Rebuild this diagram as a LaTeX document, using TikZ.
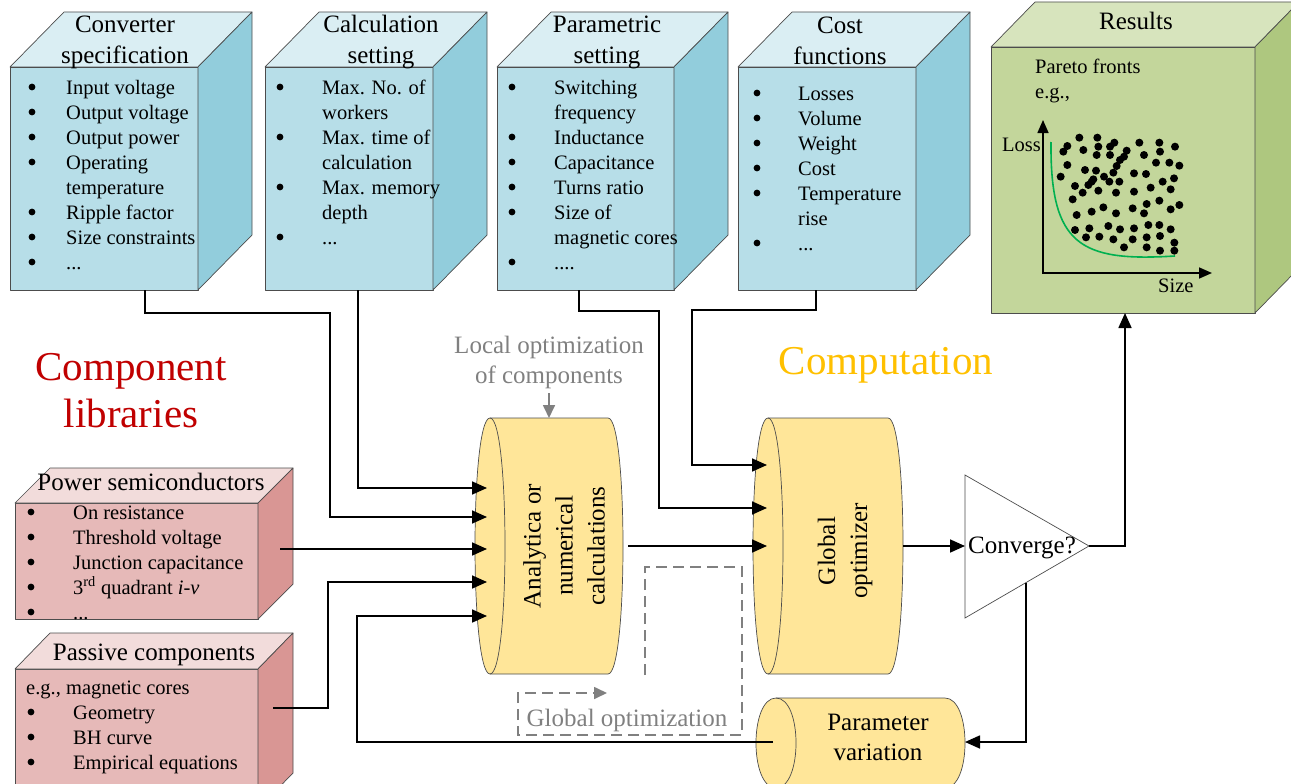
\documentclass[tikz,border=0pt]{standalone}
\usepackage{fontspec}
\setmainfont{Liberation Serif}
\usetikzlibrary{arrows.meta}
\definecolor{bfront}{HTML}{B7DEE8}
\definecolor{btop}{HTML}{DAEEF3}
\definecolor{bside}{HTML}{92CDDC}
\definecolor{pfront}{HTML}{E6B9B8}
\definecolor{ptop}{HTML}{F2DCDB}
\definecolor{pside}{HTML}{D99694}
\definecolor{gfront}{HTML}{C3D69B}
\definecolor{gtop}{HTML}{D7E4BD}
\definecolor{gside}{HTML}{AEC77F}
\definecolor{cylfill}{HTML}{FFE699}
\definecolor{libred}{HTML}{C00000}
\definecolor{compgold}{HTML}{FFC000}
\definecolor{ggray}{HTML}{808080}
\definecolor{pgreen}{HTML}{00B050}
\newcommand{\itemfont}{\fontsize{20.5}{25}\selectfont}
\newcommand{\ttlfont}{\fontsize{25}{31}\selectfont}
\newcommand{\cubefaces}[4]{%
  \filldraw[bxface, fill=#4top] (#1.north west) -- ++(#2,#3) -- ([shift={(#2,#3)}]#1.north east) -- (#1.north east) -- cycle;
  \filldraw[bxface, fill=#4side] (#1.north east) -- ++(#2,#3) -- ([shift={(#2,#3)}]#1.south east) -- (#1.south east) -- cycle;}
\begin{document}
\begin{tikzpicture}[x=1pt,y=-1pt,
  bxface/.style={draw=black!70, line width=0.7pt, line join=round},
  bxfront/.style={bxface, outer sep=0pt, inner sep=0pt, anchor=north west},
  wirearrow/.style={line width=1.7pt, -{Triangle[length=15pt,width=13pt]}},
  grayarrow/.style={draw=ggray, line width=1.7pt, -{Triangle[length=13pt,width=12pt]}},
  itm/.style={anchor=north west, inner sep=0pt, font=\itemfont},
  ttl/.style={font=\ttlfont, align=center, inner sep=0pt},
  cylst/.style={fill=cylfill, draw=black!70, line width=0.7pt}]
\useasboundingbox (0,0) rectangle (1291,784);
\clip (0,0) rectangle (1291,784);

% ---------- blue boxes ----------
\node[bxfront, fill=bfront, minimum width=188pt, minimum height=223pt] (cspec) at (10,67) {};
\cubefaces{cspec}{54}{-55}{b}
\node[bxfront, fill=bfront, minimum width=168pt, minimum height=223pt] (calc) at (265,67) {};
\cubefaces{calc}{54}{-55}{b}
\node[bxfront, fill=bfront, minimum width=177pt, minimum height=223pt] (param) at (497,67) {};
\cubefaces{param}{54}{-55}{b}
\node[bxfront, fill=bfront, minimum width=178pt, minimum height=223pt] (cost) at (738,67) {};
\cubefaces{cost}{54}{-55}{b}

\node[ttl] (cspec-t) at (125,42) {Converter\\specification};
\node[ttl] (calc-t) at (381,42) {Calculation\\setting};
\node[ttl] (param-t) at (607,42) {Parametric\\setting};
\node[ttl] (cost-t) at (840,41) {Cost\\functions};

\node[itm] (cspec-i) at (66,76.5) {\begin{tabular}{@{}l@{}}
Input voltage\\ Output voltage\\ Output power\\ Operating\\ temperature\\
Ripple factor\\ Size constraints\\ ...\end{tabular}};
\node[itm] (calc-i) at (322,76.5) {\begin{tabular}{@{}l@{}}
Max. No. of\\ workers\\ Max. time of\\ calculation\\ Max. memory\\ depth\\ ...\end{tabular}};
\node[itm] (param-i) at (554,76.5) {\begin{tabular}{@{}l@{}}
Switching\\ frequency\\ Inductance\\ Capacitance\\ Turns ratio\\ Size of\\ magnetic cores\\ ....\end{tabular}};
\node[itm] (cost-i) at (798,82.5) {\begin{tabular}{@{}l@{}}
Losses\\ Volume\\ Weight\\ Cost\\ Temperature\\ rise\\ ...\end{tabular}};
\foreach \k in {0,1,2,3,5,6,7} \fill (32,{87+25*\k}) circle[radius=3.4pt];
\foreach \k in {0,2,4,6} \fill (280,{87+25*\k}) circle[radius=3.4pt];
\foreach \k in {0,2,3,4,5,7} \fill (512,{87+25*\k}) circle[radius=3.4pt];
\foreach \k in {0,1,2,3,4,6} \fill (757,{93+25*\k}) circle[radius=3.4pt];

% ---------- results ----------
\node[bxfront, fill=gfront, minimum width=264pt, minimum height=266pt] (res) at (991,47) {};
\cubefaces{res}{44}{-45}{g}
\node[font=\ttlfont, inner sep=0pt, anchor=base] (res-t) at (1136,30) {Results};
\node[font=\itemfont, inner sep=0pt, anchor=base west] (pareto) at (1035,74) {Pareto fronts};
\node[font=\itemfont, inner sep=0pt, anchor=base west] (eg) at (1035,99) {e.g.,};
\draw[line width=1.6pt, {Triangle[length=13pt,width=11pt]}-{Triangle[length=13pt,width=11pt]}] (1043,120) -- (1043,273) -- (1212,273);
\node[font=\itemfont, inner sep=0pt, anchor=base east] (loss) at (1041,151) {Loss};
\node[font=\itemfont, inner sep=0pt, anchor=base west] (size) at (1158,292) {Size};
\foreach \px/\py in {298/413, 352/413, 262/438, 250/455, 310/450, 355/440, 350/465, 390/440, 403/428, 390/465, 440/452, 432/470, 478/428, 492/465, 538/428, 540/455, 585/440, 528/488, 568/488, 598/497, 262/495, 315/510, 348/512, 372/530, 400/518, 410/498, 420/480, 242/530, 335/545, 388/545, 418/545, 462/520, 498/522, 548/545, 582/535, 285/558, 308/578, 355/572, 408/578, 462/575, 512/563, 572/568, 278/598, 370/622, 408/640, 458/625, 492/640, 500/612, 538/602, 598/615, 572/628, 290/645, 335/635, 328/685, 385/678, 420/688, 462/685, 505/675, 538/675, 572/688, 285/690, 318/712, 358/710, 400/718, 432/742, 458/718, 500/712, 540/708, 583/728, 500/742, 540/752, 583/752, 340/538, 325/555}
  \fill ({980+\px/3},{\py/3}) circle[radius=4pt];
\draw[pgreen, line width=1.6pt] (1051,142) .. controls (1050,245) and (1080,262) .. (1175,256);

% ---------- pink boxes ----------
\node[bxfront, fill=pfront, minimum width=243pt, minimum height=116pt] (power) at (15,503) {};
\cubefaces{power}{35}{-35}{p}
\node[bxfront, fill=pfront, minimum width=243pt, minimum height=140pt] (passive) at (15,669) {};
\cubefaces{passive}{35}{-36}{p}
\node[font=\ttlfont, inner sep=0pt, anchor=base] (power-t) at (151,490) {Power semiconductors};
\node[font=\ttlfont, inner sep=0pt, anchor=base] (passive-t) at (154,660) {Passive components};
\node[itm] (power-i) at (73,501.5) {\begin{tabular}{@{}l@{}}
On resistance\\ Threshold voltage\\ Junction capacitance\\ 3\textsuperscript{rd} quadrant \textit{i-v}\\ ...\end{tabular}};
\node[font=\itemfont, inner sep=0pt, anchor=base west] (passive-eg) at (26,694) {e.g., magnetic cores};
\node[itm] (passive-i) at (73,701.5) {\begin{tabular}{@{}l@{}}
Geometry\\ BH curve\\ Empirical equations\end{tabular}};
\foreach \k in {0,1,2,3,4} \fill (31,{512+25*\k}) circle[radius=3.4pt];
\foreach \k in {1,2,3} \fill (31,{687+25*\k}) circle[radius=3.4pt];

% ---------- big labels ----------
\node[font=\fontsize{41}{47}\selectfont, text=libred, align=center, inner sep=0pt] (complib) at (131,391) {Component\\libraries};
\node[font=\fontsize{41}{47}\selectfont, text=compgold, inner sep=0pt, anchor=base] (comput) at (886,374) {Computation};
\node[font=\fontsize{25}{30}\selectfont, text=ggray, align=center, inner sep=0pt] (locopt) at (549,362) {Local optimization\\of components};

% ---------- cylinders ----------
\filldraw[cylst] (490,418) -- (608,418) .. controls (628,418) and (628,674) .. (608,674) -- (490,674) .. controls (470,674) and (470,418) .. (490,418) -- cycle;
\draw[cylst, fill=none] (490,418) .. controls (510,418) and (510,674) .. (490,674);
\node[font=\fontsize{25}{32}\selectfont, align=center, inner sep=0pt, rotate=90] (anal) at (564,546) {Analytica or\\numerical\\calculations};

\filldraw[cylst] (768,418) -- (888,418) .. controls (908,418) and (908,674) .. (888,674) -- (768,674) .. controls (748,674) and (748,418) .. (768,418) -- cycle;
\draw[cylst, fill=none] (768,418) .. controls (788,418) and (788,674) .. (768,674);
\node[font=\fontsize{25}{32}\selectfont, align=center, inner sep=0pt, rotate=90] (glob) at (845,551) {Global\\optimizer};

\filldraw[cylst] (776,698) -- (945,698) .. controls (971.7,698) and (971.7,788) .. (945,788) -- (776,788) .. controls (749.3,788) and (749.3,698) .. (776,698) -- cycle;
\draw[cylst, fill=none] (776,698) .. controls (802.7,698) and (802.7,788) .. (776,788);
\node[font=\fontsize{25}{30}\selectfont, align=center, inner sep=0pt] (pvar) at (878,737) {Parameter\\variation};

% ---------- triangle ----------
\coordinate (tri-in) at (965,546);
\coordinate (tri-apex) at (1089,546);
\coordinate (tri-low) at (1026,582.6);
\filldraw[fill=white, draw=black!70, line width=0.7pt] (965,475) -- (tri-apex) -- (965,618) -- cycle;
\node[font=\ttlfont, inner sep=0pt, anchor=base] (conv-q) at (1022,553) {Converge?};

% ---------- connector points ----------
\coordinate (an-in1) at (487,488);
\coordinate (an-in2) at (487,517);
\coordinate (an-in3) at (487,549);
\coordinate (an-in4) at (487,582);
\coordinate (an-in5) at (487,616);
\coordinate (an-out) at (628,546);
\coordinate (an-top) at (549,418);
\coordinate (go-in1) at (767,465);
\coordinate (go-in2) at (767,508);
\coordinate (go-in3) at (767,546);
\coordinate (go-out) at (903,546);
\coordinate (pv-in) at (965,742);
\coordinate (pv-out) at (773,742);
\coordinate (pw-out) at (280,549);
\coordinate (pas-out) at (273,708);

% ---------- connectors ----------
\draw[wirearrow] ([xshift=41pt]cspec.south) |- (330,313) -- (330,517) -- (an-in2);
\draw[wirearrow] ([xshift=9pt]calc.south) |- (an-in1);
\draw[wirearrow] (pw-out) -- (an-in3);
\draw[wirearrow] (pas-out) -| (328,582) -- (an-in4);
\draw[wirearrow] (pv-out) -| (357,616) -- (an-in5);
\draw[wirearrow] (an-out) -- (go-in3);
\draw[wirearrow] ([xshift=-6.5pt]param.south) |- (659,311) -- (659,508) -- (go-in2);
\draw[wirearrow] ([xshift=-11pt]cost.south) |- (692,310) -- (692,465) -- (go-in1);
\draw[wirearrow] (go-out) -- (tri-in);
\draw[wirearrow] (tri-apex) -| ([xshift=2pt]res.south);
\draw[wirearrow] (tri-low) |- (pv-in);

% ---------- gray ----------
\draw[grayarrow] (549,393) -- (an-top);
\draw[grayarrow, dash pattern=on 11pt off 6pt] (645,675) -- (645,567) -- (742,567) -- (742,735) -- (518,735) -- (518,693) -- (607,693);
\node[font=\fontsize{25}{30}\selectfont, text=ggray, inner sep=0pt, anchor=base] (globopt) at (627,726) {Global optimization};
\end{tikzpicture}
\end{document}
